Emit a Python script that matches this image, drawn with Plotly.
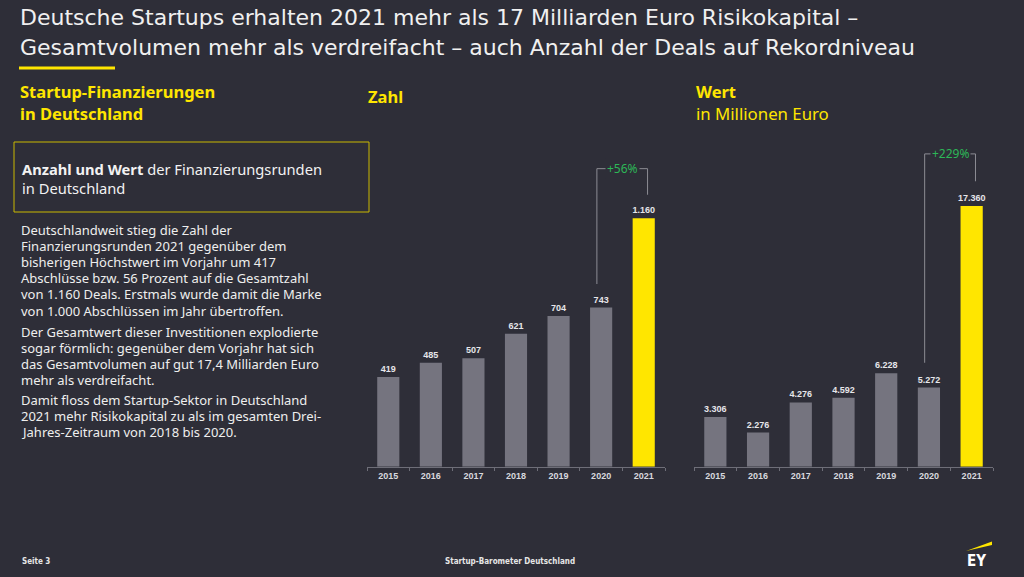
import plotly.graph_objects as go

years = ["2015", "2016", "2017", "2018", "2019", "2020", "2021"]
deals = [419, 485, 507, 621, 704, 743, 1160]
volume = [3306, 2276, 4276, 4592, 6228, 5272, 17360]

BG = "#2e2e38"
YELLOW = "#ffe600"
GREY_BAR = "#75747f"
GREEN = "#2db757"
W, H = 1024, 577

para1 = ["Deutschlandweit stieg die Zahl der",
         "Finanzierungsrunden 2021 gegenüber dem",
         "bisherigen Höchstwert im Vorjahr um 417",
         "Abschlüsse bzw. 56 Prozent auf die Gesamtzahl",
         "von 1.160 Deals. Erstmals wurde damit die Marke",
         "von 1.000 Abschlüssen im Jahr übertroffen."]
para2 = ["Der Gesamtwert dieser Investitionen explodierte",
         "sogar förmlich: gegenüber dem Vorjahr hat sich",
         "das Gesamtvolumen auf gut 17,4 Milliarden Euro",
         "mehr als verdreifacht."]
para3 = ["Damit floss dem Startup-Sektor in Deutschland",
         "2021 mehr Risikokapital zu als im gesamten Drei-",
         "Jahres-Zeitraum von 2018 bis 2020."]


def px(x):
    return x / W


def py(y):
    return 1 - y / H


def de_fmt(v):
    return f"{v:,}".replace(",", ".")


def bar_colors(values):
    return [YELLOW if i == len(values) - 1 else GREY_BAR for i in range(len(values))]


fig = go.Figure()

for vals, xa, ya in [(deals, "x", "y"), (volume, "x2", "y2")]:
    fig.add_trace(go.Bar(
        x=years, y=vals, xaxis=xa, yaxis=ya,
        marker=dict(color=bar_colors(vals), line=dict(width=0)),
        text=[de_fmt(v) for v in vals],
        textposition="outside",
        textfont=dict(family="Liberation Sans, Arial", size=9, color="#e6e6ea", weight="bold"),
        constraintext="none",
        cliponaxis=False,
        showlegend=False,
        hoverinfo="skip",
    ))

axis_x = dict(type="category", showgrid=False, zeroline=False, showline=True,
              linecolor="#6e6e78", linewidth=1, ticks="outside", tickson="boundaries",
              ticklen=3, tickcolor="#6e6e78",
              tickfont=dict(family="Liberation Sans, Arial", size=9, color="#d8d8de", weight="bold"))
axis_y = dict(visible=False, showgrid=False, zeroline=False)

fig.update_layout(
    width=W, height=H, margin=dict(l=0, r=0, t=0, b=0),
    paper_bgcolor=BG, plot_bgcolor=BG, bargap=0.48,
    xaxis=dict(axis_x, domain=[px(367), px(665)], anchor="y"),
    xaxis2=dict(axis_x, domain=[px(694), px(993)], anchor="y2"),
    yaxis=dict(axis_y, domain=[py(466.7), 0.95], range=[0, 2045], anchor="x"),
    yaxis2=dict(axis_y, domain=[py(466.7), 0.95], range=[0, 29160], anchor="x2"),
)

# growth brackets 2020 -> 2021
for vals, xr, yr in [(deals, "x", "y"), (volume, "x2", "y2")]:
    top = max(vals) * 1.2
    gap = max(vals) * 0.095
    a, b = 5 - 0.1, 6 + 0.09
    line = dict(color="#8c8c94", width=1)
    fig.add_shape(type="line", xref=xr, yref=yr, x0=a, x1=a, y0=vals[5] + gap, y1=top, line=line)
    fig.add_shape(type="line", xref=xr, yref=yr, x0=a, x1=b, y0=top, y1=top, line=line)
    fig.add_shape(type="line", xref=xr, yref=yr, x0=b, x1=b, y0=top, y1=vals[6] + gap, line=line)
    pct = round((vals[6] / vals[5] - 1) * 100)
    fig.add_annotation(xref=xr, yref=yr, x=5.5, y=top, text=f"+{pct}%", showarrow=False,
                       bgcolor=BG, borderpad=1,
                       font=dict(family="Noto Sans", size=12, color=GREEN))

# header underline and text box
fig.add_shape(type="rect", xref="paper", yref="paper", x0=px(19), x1=px(115), y0=py(69.5), y1=py(66.5),
              fillcolor=YELLOW, line=dict(width=0))
fig.add_shape(type="rect", xref="paper", yref="paper", x0=px(14), x1=px(369), y0=py(212), y1=py(142),
              line=dict(color="#c9b800", width=1))

# EY logo beam
fig.add_shape(type="path", xref="paper", yref="paper",
              path=f"M {px(966)},{py(551)} L {px(992)},{py(541.5)} L {px(992)},{py(545)} Z",
              fillcolor=YELLOW, line=dict(width=0))


def text(x, y, s, size, color="#eeeeee", family="Noto Sans", xanchor="left"):
    fig.add_annotation(xref="paper", yref="paper", x=px(x), y=py(y), text=s, showarrow=False,
                       xanchor=xanchor, yanchor="middle", align="left",
                       font=dict(family=family, size=size, color=color))


COND = "DejaVu Sans Condensed, Liberation Sans"

text(18, 18, "Deutsche Startups erhalten 2021 mehr als 17 Milliarden Euro Risikokapital –", 22, "#f0f0f0", "DejaVu Sans")
text(18, 48, "Gesamtvolumen mehr als verdreifacht – auch Anzahl der Deals auf Rekordniveau", 22, "#f0f0f0", "DejaVu Sans")
text(18, 91, "<b>Startup-Finanzierungen</b>", 16.5, YELLOW)
text(18, 113, "<b>in Deutschland</b>", 16.5, YELLOW)
text(366, 96, "<b>Zahl</b>", 16.5, YELLOW)
text(694, 92, "<b>Wert</b>", 16.5, YELLOW)
text(694, 113, "in Millionen Euro", 16.8, YELLOW)
text(20, 168.5, "<b>Anzahl und Wert</b> der Finanzierungsrunden", 14.7, "#f2f2f2")
text(20, 188.3, "in Deutschland", 14.7, "#f2f2f2")

for start, lines in [(230, para1), (331.7, para2), (400, para3)]:
    for i, s in enumerate(lines):
        text(19, start + 16.1 * i, s, 13)

text(20, 561, "<b>Seite 3</b>", 8, "#e6e6e6", COND)
text(510, 561, "<b>Startup-Barometer Deutschland</b>", 8, "#e6e6e6", COND, "center")
text(976, 561, "<b>EY</b>", 15, "#ffffff", COND, "center")

fig.write_html("out.html", config={"displayModeBar": False},
               post_script="document.body.style.margin='0';")
